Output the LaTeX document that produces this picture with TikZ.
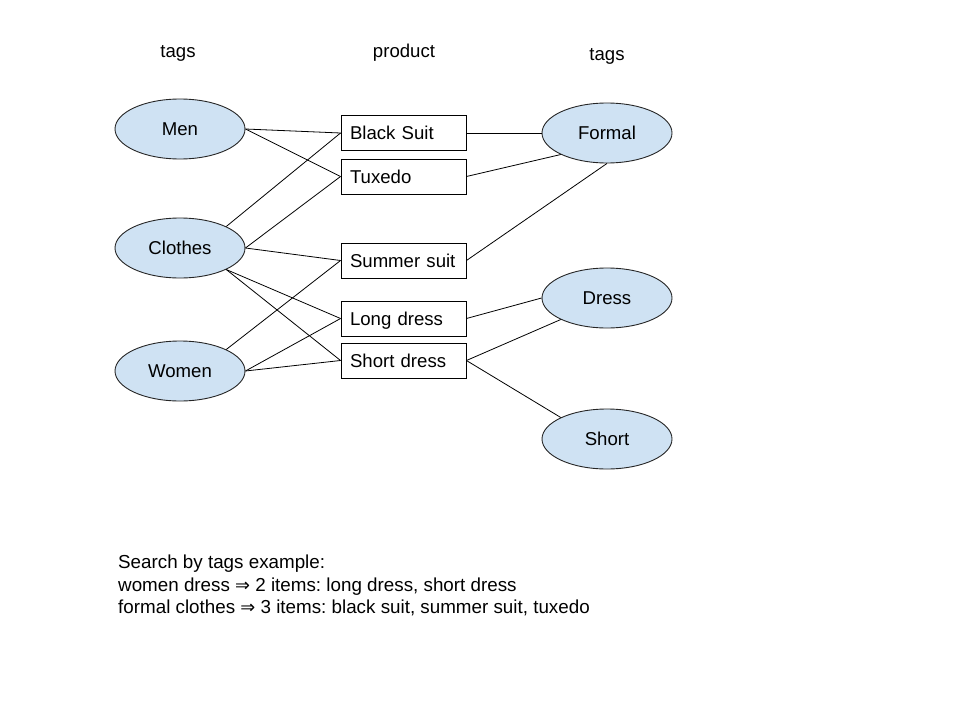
\documentclass[tikz,border=0pt]{standalone}
\usepackage{fontspec}
\setmainfont{Liberation Sans}
\newfontfamily\dvsans{DejaVu Sans}[Scale=0.95]
\usetikzlibrary{shapes.geometric}
\definecolor{tagfill}{HTML}{CFE2F3}
\tikzset{
  tag/.style={ellipse, draw=black!85, fill=tagfill, line width=0.9pt,
    minimum width=130pt, minimum height=60pt, inner sep=0pt,
    text height=13.4pt, text depth=0pt,
    font=\fontsize{18.6}{22}\selectfont},
  prod/.style={rectangle, draw=black, fill=white, line width=0.9pt,
    minimum width=125pt, minimum height=35pt, inner xsep=9pt, inner ysep=0pt,
    text height=13.4pt, text depth=0pt,
    text width=107pt, align=left, font=\fontsize{18.6}{22}\selectfont},
  link/.style={draw=black, line width=0.8pt},
  head/.style={font=\fontsize{18.6}{22}\selectfont, inner sep=0pt}
}
\begin{document}
\frenchspacing
\begin{tikzpicture}[x=1pt,y=-1pt]
\useasboundingbox (0,0) rectangle (960,720);
\node[head] (h1) at (178,53) {tags};
\node[head] (h2) at (404,53) {product};
\node[head] (h3) at (607,56) {tags};

\node[tag] (men) at (180,129) {Men};
\node[tag] (clothes) at (180,248) {Clothes};
\node[tag] (women) at (180,371) {Women};

\node[prod] (blacksuit) at (403.5,133) {Black Suit};
\node[prod] (tuxedo) at (403.5,176.5) {Tuxedo};
\node[prod] (summer) at (403.5,260.5) {Summer suit};
\node[prod] (long) at (403.5,318.5) {Long dress};
\node[prod] (short) at (403.5,360.5) {Short dress};

\node[tag] (formal) at (607,133) {Formal};
\node[tag] (dress) at (607,298) {Dress};
\node[tag] (shorttag) at (607,439) {Short};

\draw[link] (men.east) -- (blacksuit.west);
\draw[link] (men.east) -- (tuxedo.west);
\draw[link] (clothes.north east) -- (blacksuit.west);
\draw[link] (clothes.east) -- (tuxedo.west);
\draw[link] (clothes.east) -- (summer.west);
\draw[link] (clothes.south east) -- (long.west);
\draw[link] (clothes.south east) -- (short.west);
\draw[link] (women.north east) -- (summer.west);
\draw[link] (women.east) -- (long.west);
\draw[link] (women.east) -- (short.west);

\draw[link] (blacksuit.east) -- (formal.west);
\draw[link] (tuxedo.east) -- (formal.south west);
\draw[link] (summer.east) -- (formal.south);
\draw[link] (long.east) -- (dress.west);
\draw[link] (short.east) -- (dress.south west);
\draw[link] (short.east) -- (shorttag.north west);

\node[anchor=north west, align=left, inner sep=0pt,
  font=\fontsize{18.8}{22.5}\selectfont] (note) at (118,555)
  {Search by tags example:\\
   women dress {\dvsans ⇒} 2 items: long dress, short dress\\
   formal clothes {\dvsans ⇒} 3 items: black suit, summer suit, tuxedo};
\end{tikzpicture}
\end{document}
